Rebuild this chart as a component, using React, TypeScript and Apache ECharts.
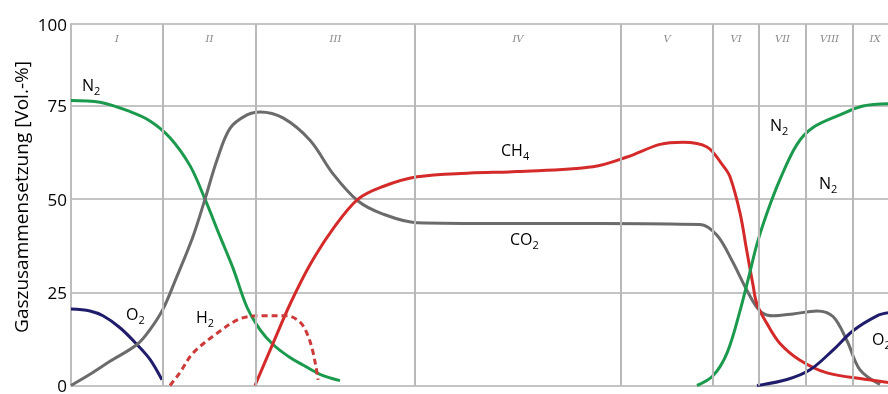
import React, { useEffect, useRef } from "react";
import * as echarts from "echarts";

// time axis (arbitrary units) and phase boundaries
const xMax = 817;
const phaseBounds = [0, 92, 185, 344, 550, 642, 688, 735, 782, 826];
const phaseLabels = ["I", "II", "III", "IV", "V", "VI", "VII", "VIII", "IX"];
const yTickLabels = ["0", "25", "50", "75", "100"];

// gas composition [time, Vol.-%]
const n2Start = [[0, 76.5], [29, 76], [59, 73.5], [79, 71], [99, 66.5], [119, 59], [134, 50], [149, 40], [162, 31.5], [176, 21], [189, 15], [202, 11], [219, 7.5], [232, 5.5], [249, 3], [269, 1.3]];
const o2Start = [[0, 20.5], [19, 20], [32, 18.7], [49, 15.5], [66, 11], [79, 7], [91, 1.5]];
const co2 = [[0, 0], [19, 3], [39, 6.5], [66, 11], [79, 15], [92, 20.5], [104, 28], [122, 40], [134, 50], [146, 60.5], [159, 69], [176, 72.6], [189, 73.4], [212, 71.8], [239, 65.8], [262, 56.8], [287, 49.5], [312, 46], [346, 43.7], [429, 43.5], [529, 43.5], [629, 43.2], [646, 40.3], [662, 33], [676, 25.5], [689, 20], [702, 18.7], [722, 19.2], [746, 20], [762, 18.5], [776, 12], [789, 4.2], [809, 0.3]];
const ch4 = [[184, 0], [202, 11.3], [219, 21.8], [239, 32.4], [262, 42], [287, 50], [312, 53.4], [346, 56], [399, 57], [446, 57.4], [522, 58.7], [556, 61.3], [589, 64.7], [612, 65.3], [636, 64], [652, 59], [659, 56], [669, 46.3], [676, 35.8], [682, 27], [686, 21.8], [696, 16.6], [709, 11.3], [729, 6.8], [756, 3.4], [796, 1.6], [817, 0.8]];
const h2 = [[99, 0], [109, 3.5], [122, 8.7], [146, 14], [169, 17.9], [189, 18.7], [216, 18.7], [229, 17], [236, 14], [241, 10], [245, 5], [247, 1.5]];
const n2End = [[626, 0], [642, 2.6], [656, 8.7], [669, 20], [679, 30.5], [686, 38], [696, 46.3], [709, 55.3], [726, 64.7], [742, 69.2], [769, 72.6], [792, 75], [817, 75.6]];
const o2End = [[686, 0], [716, 1.6], [739, 4.2], [762, 9.5], [782, 14.7], [806, 18.7], [817, 19.5]];

// annotations: [main, subscript, time, Vol.-%] (left edge, vertical centre)
const annotations: [string, string, number, number][] = [
  ["N", "2", 10, 80.7],
  ["O", "2", 54, 19.2],
  ["H", "2", 124, 18.4],
  ["CH", "4", 429, 63.1],
  ["CO", "2", 438, 39.4],
  ["N", "2", 698, 69.9],
  ["N", "2", 747, 54.4],
  ["O", "2", 800, 12.6],
];

const FONT = "'Open Sans', sans-serif";
const Y_TOP = 97; // the top gridline labelled "100"

export default function App() {
  const ref = useRef<HTMLDivElement>(null);
  useEffect(() => {
    if (!ref.current) return;
    const chart = echarts.init(ref.current, null, { renderer: "svg" });
    const curve = (name: string, data: number[][], color: string, dashed = false) => ({
      name,
      type: "line",
      data,
      smooth: 0.35,
      showSymbol: false,
      symbol: "none",
      z: 3,
      lineStyle: { color, width: 3, type: dashed ? [6, 4] : "solid" },
    });
    chart.setOption({
      animation: false,
      grid: { left: 71, right: 0, top: 24, bottom: 1 },
      xAxis: {
        type: "value",
        min: 0,
        max: xMax,
        show: true,
        axisLine: { show: false },
        axisTick: { show: false },
        axisLabel: { show: false },
        splitLine: { show: false },
      },
      yAxis: {
        type: "value",
        min: 0,
        max: Y_TOP,
        interval: 25,
        axisLine: { show: true, lineStyle: { color: "#bdbdbd", width: 2 } },
        axisTick: { show: false },
        axisLabel: {
          fontFamily: FONT,
          fontSize: 17,
          color: "#000",
          margin: 4,
          formatter: (v: number) => (v >= Y_TOP ? yTickLabels[4] : yTickLabels[Math.round(v / 25)]),
        },
        splitLine: { show: true, lineStyle: { color: "#c4c4c4", width: 2 } },
      },
      series: [
        {
          type: "line",
          data: [],
          z: 1,
          silent: true,
          markLine: {
            silent: true,
            symbol: "none",
            label: { show: false },
            lineStyle: { color: "#b8b8b8", width: 2, type: "solid" },
            data: phaseBounds.slice(1, -1).map((b) => ({ xAxis: b })),
          },
        },
        curve("N2", n2Start, "#1b9a4e"),
        curve("O2", o2Start, "#1f1d6b"),
        curve("CO2", co2, "#6b6b6b"),
        curve("CH4", ch4, "#d42a2a"),
        curve("H2", h2, "#cc3a3a", true),
        curve("N2 ", n2End, "#1b9a4e"),
        curve("O2 ", o2End, "#1f1d6b"),
      ],
    });

    const graphics: any[] = [];
    graphics.push({
      type: "text",
      x: 21,
      y: 197,
      rotation: Math.PI / 2,
      style: {
        text: "Gaszusammensetzung [Vol.-%]",
        fontFamily: FONT,
        fontSize: 19,
        fill: "#000",
        align: "center",
        verticalAlign: "middle",
      },
    });
    const topPx = chart.convertToPixel({ gridIndex: 0 }, [0, Y_TOP]) as number[];
    for (let i = 0; i < phaseLabels.length; i++) {
      const c = (phaseBounds[i] + phaseBounds[i + 1]) / 2;
      const p = chart.convertToPixel({ gridIndex: 0 }, [c, Y_TOP]) as number[];
      graphics.push({
        type: "text",
        x: p[0],
        y: topPx[1] + 14,
        style: {
          text: phaseLabels[i],
          fontFamily: "'DejaVu Serif', serif",
          fontStyle: "italic",
          fontSize: 10,
          fill: "#8a8a8a",
          align: "center",
          verticalAlign: "middle",
        },
      });
    }
    for (const [m, s, x, y] of annotations) {
      const p = chart.convertToPixel({ gridIndex: 0 }, [x, y]) as number[];
      graphics.push({
        type: "text",
        x: p[0],
        y: p[1],
        z: 10,
        style: {
          text: `{b|${m}}{s|${s}}`,
          align: "left",
          verticalAlign: "middle",
          backgroundColor: "#fff",
          padding: [1, 2, 1, 1],
          rich: {
            b: { fontFamily: FONT, fontSize: 16, color: "#000", lineHeight: 22, verticalAlign: "middle" },
            s: { fontFamily: FONT, fontSize: 11, color: "#000", lineHeight: 12, verticalAlign: "bottom" },
          },
        },
      });
    }
    chart.setOption({ graphic: graphics });
    return () => chart.dispose();
  }, []);
  return <div ref={ref} style={{ position: "fixed", left: 0, top: 0, width: 888, height: 394 }} />;
}
